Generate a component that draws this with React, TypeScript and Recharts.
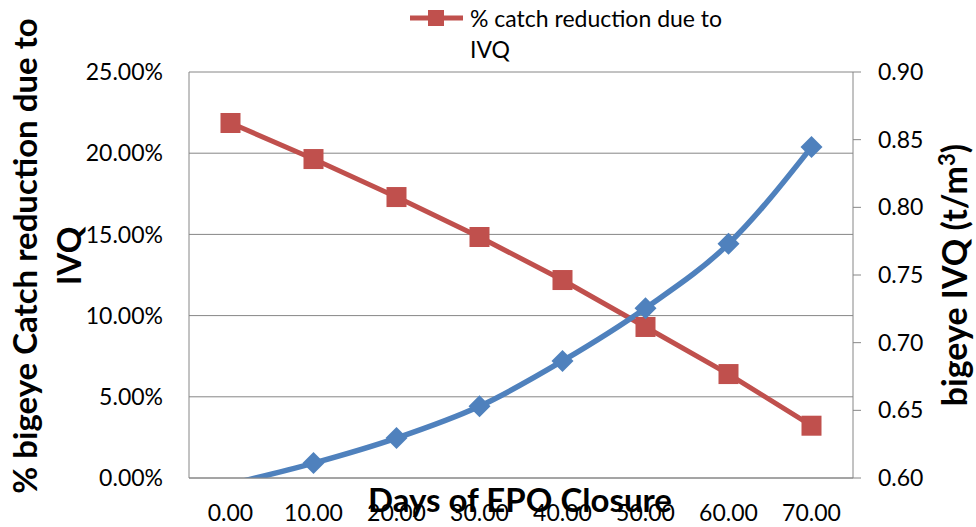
import { CartesianGrid, Label, Legend, Line, LineChart, XAxis, YAxis } from 'recharts';

const DAYS = [0, 10, 20, 30, 40, 50, 60, 70];
// % catch reduction due to IVQ (left axis, in percent)
const CATCH_REDUCTION = [21.86, 19.64, 17.3, 14.84, 12.19, 9.3, 6.4, 3.22];
// bigeye IVQ in t/m3 (right axis)
const BIGEYE_IVQ = [0.5955, 0.611, 0.6295, 0.653, 0.6865, 0.7255, 0.773, 0.8445];
const LEFT_TICKS = [0, 5, 10, 15, 20, 25];
const RIGHT_TICKS = [0.6, 0.65, 0.7, 0.75, 0.8, 0.85, 0.9];
const IVQ_MIN = 0.6;

const RED = '#C0504D';
const BLUE = '#4F81BD';
const GRID = '#868686';
const FONT = 'Lato, "Open Sans", sans-serif';

const data = DAYS.map((day, i) => ({
  day,
  reduction: CATCH_REDUCTION[i],
  ivq: BIGEYE_IVQ[i],
}));

const tickStyle = { fill: '#000', fontSize: 23, fontFamily: FONT };

function SquareDot(props: any) {
  const { cx, cy, index } = props;
  if (cx == null || cy == null) return null;
  return <rect key={`sq-${index}`} x={cx - 10} y={cy - 10} width={20} height={20} fill={RED} />;
}

function DiamondDot(props: any) {
  const { cx, cy, index, value } = props;
  // points below the axis range are not drawn (like the original chart)
  if (cx == null || cy == null || value < IVQ_MIN) return <g key={`dm-${index}`} />;
  const r = 11;
  return (
    <polygon
      key={`dm-${index}`}
      points={`${cx},${cy - r} ${cx + r},${cy} ${cx},${cy + r} ${cx - r},${cy}`}
      fill={BLUE}
    />
  );
}

function LegendBox() {
  return (
    <div style={{ display: 'flex', alignItems: 'flex-start', fontFamily: FONT, fontSize: 23, color: '#000' }}>
      <svg width={58} height={30}>
        <line x1={2} y1={15} x2={55} y2={15} stroke={RED} strokeWidth={5} />
        <rect x={20} y={7} width={16} height={16} fill={RED} />
      </svg>
      <div style={{ lineHeight: '31px', marginLeft: 4, whiteSpace: 'nowrap' }}>
        % catch reduction due to
        <br />
        IVQ
      </div>
    </div>
  );
}

export default function App() {
  return (
    <div style={{ position: 'absolute', left: 0, top: 0, background: '#fff' }}>
      <LineChart width={976} height={527} data={data} margin={{ top: 72, right: 0, bottom: 0, left: 0 }}>
        <CartesianGrid yAxisId="left" vertical={false} stroke={GRID} />
        <XAxis
          dataKey="day"
          scale="point"
          padding={{ left: 41.5, right: 41.5 }}
          height={49}
          axisLine={{ stroke: GRID }}
          tickLine={false}
          tickSize={0}
          tickMargin={27}
          tick={tickStyle}
          tickFormatter={(v: number) => v.toFixed(2)}
        >
          <Label
            content={() => (
              <text x={520} y={512} textAnchor="middle" fontFamily={FONT} fontWeight={700} fontSize={33} fill="#000">
                Days of EPO Closure
              </text>
            )}
          />
        </XAxis>
        <YAxis
          yAxisId="left"
          width={189}
          domain={[0, 25]}
          ticks={LEFT_TICKS}
          axisLine={{ stroke: GRID }}
          tickLine={false}
          tickSize={0}
          tickMargin={26}
          tick={tickStyle}
          tickFormatter={(v: number) => `${v.toFixed(2)}%`}
        >
          <Label
            content={() => (
              <g fontFamily={FONT} fontWeight={700} fontSize={33} fill="#000">
                <text transform="translate(37,256) rotate(-90)" textAnchor="middle">
                  % bigeye Catch reduction due to
                </text>
                <text transform="translate(81,256) rotate(-90)" textAnchor="middle">
                  IVQ
                </text>
              </g>
            )}
          />
        </YAxis>
        <YAxis
          yAxisId="right"
          orientation="right"
          width={123}
          domain={[0.6, 0.9]}
          ticks={RIGHT_TICKS}
          allowDataOverflow
          axisLine={{ stroke: GRID }}
          tickLine={{ stroke: GRID }}
          tickSize={8}
          tickMargin={17}
          tick={tickStyle}
          tickFormatter={(v: number) => v.toFixed(2)}
        >
          <Label
            content={() => (
              <text
                transform="translate(967,275) rotate(-90)"
                textAnchor="middle"
                fontFamily={FONT}
                fontWeight={700}
                fontSize={34}
                fill="#000"
              >
                bigeye IVQ (t/m
                <tspan dy={-12} fontSize={22}>3</tspan>
                <tspan dy={12}>)</tspan>
              </text>
            )}
          />
        </YAxis>
        <Legend
          verticalAlign="middle"
          align="center"
          layout="horizontal"
          wrapperStyle={{ top: 3, left: 408, width: 'auto' }}
          content={() => <LegendBox />}
        />
        <Line
          yAxisId="left"
          type="linear"
          dataKey="reduction"
          stroke={RED}
          strokeWidth={5}
          dot={SquareDot}
          activeDot={false}
          isAnimationActive={false}
        />
        <Line
          yAxisId="right"
          type="monotone"
          dataKey="ivq"
          stroke={BLUE}
          strokeWidth={5.5}
          dot={DiamondDot}
          activeDot={false}
          isAnimationActive={false}
        />
      </LineChart>
    </div>
  );
}
